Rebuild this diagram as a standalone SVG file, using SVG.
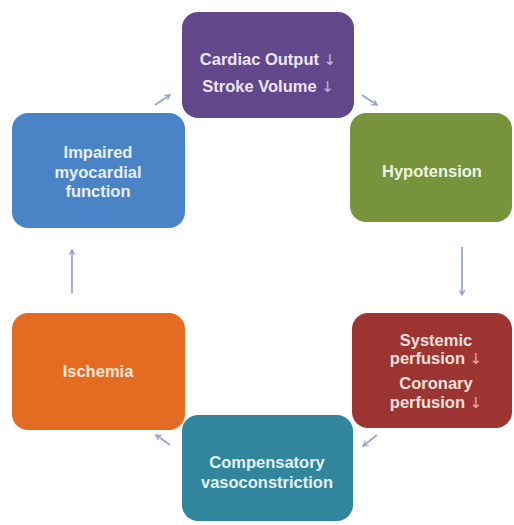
<svg xmlns="http://www.w3.org/2000/svg" width="514" height="525" viewBox="0 0 514 525">
  <style>
    .box { stroke: none; }
    .lbl { font-family: "Liberation Sans", Arial, sans-serif; font-weight: bold; font-size: 16.5px; text-anchor: middle; }
    .dn { font-family: "DejaVu Sans", sans-serif; font-weight: normal; font-size: 15px; opacity: 0.7; }
    .conn { stroke: #93a3cf; stroke-width: 1.7; fill: none; marker-end: url(#head); }
  </style>
  <defs>
    <marker id="head" viewBox="0 0 10 10" refX="8" refY="5" markerWidth="7" markerHeight="7" orient="auto" markerUnits="userSpaceOnUse">
      <path d="M1,1 L8,5 L1,9" fill="none" stroke="#93a3cf" stroke-width="1.8"/>
    </marker>
  </defs>
  <rect width="514" height="525" fill="#ffffff"/>

  <!-- cycle arrows between the stages -->
  <g id="connectors">
    <line class="conn" x1="155" y1="105" x2="170" y2="95"/>
    <line class="conn" x1="362" y1="95" x2="377" y2="105"/>
    <line class="conn" x1="462" y1="247" x2="462" y2="295"/>
    <line class="conn" x1="377" y1="435" x2="363" y2="446"/>
    <line class="conn" x1="170" y1="445" x2="156" y2="435"/>
    <line class="conn" x1="72" y1="293" x2="72" y2="250"/>
  </g>

  <g id="cardiac-output">
    <rect class="box" x="182" y="12" width="172" height="106" rx="16" fill="#62478a"/>
    <text class="lbl" fill="#ece6f4"><tspan x="268" y="65">Cardiac Output <tspan class="dn">↓</tspan></tspan><tspan x="268" y="92">Stroke Volume <tspan class="dn">↓</tspan></tspan></text>
  </g>

  <g id="hypotension">
    <rect class="box" x="350" y="113" width="162" height="109" rx="16" fill="#77933c"/>
    <text class="lbl" fill="#eef3e2" x="432" y="177">Hypotension</text>
  </g>

  <g id="perfusion">
    <rect class="box" x="352" y="313" width="160" height="115" rx="16" fill="#9c3431"/>
    <text class="lbl" fill="#f6e0dc"><tspan x="436" y="346">Systemic</tspan><tspan x="436" y="364">perfusion <tspan class="dn">↓</tspan></tspan><tspan x="436" y="389">Coronary</tspan><tspan x="436" y="408">perfusion <tspan class="dn">↓</tspan></tspan></text>
  </g>

  <g id="vasoconstriction">
    <rect class="box" x="182" y="415" width="171" height="106" rx="16" fill="#31859c"/>
    <text class="lbl" fill="#e4f2f6"><tspan x="267" y="468">Compensatory</tspan><tspan x="267" y="488">vasoconstriction</tspan></text>
  </g>

  <g id="ischemia">
    <rect class="box" x="12" y="313" width="173" height="117" rx="16" fill="#e46c22"/>
    <text class="lbl" fill="#fbe8dc" x="98" y="377">Ischemia</text>
  </g>

  <g id="impaired">
    <rect class="box" x="12" y="113" width="173" height="115" rx="16" fill="#4a84c6"/>
    <text class="lbl" fill="#e8f0fa"><tspan x="98" y="158">Impaired</tspan><tspan x="98" y="178">myocardial</tspan><tspan x="98" y="197">function</tspan></text>
  </g>
</svg>
